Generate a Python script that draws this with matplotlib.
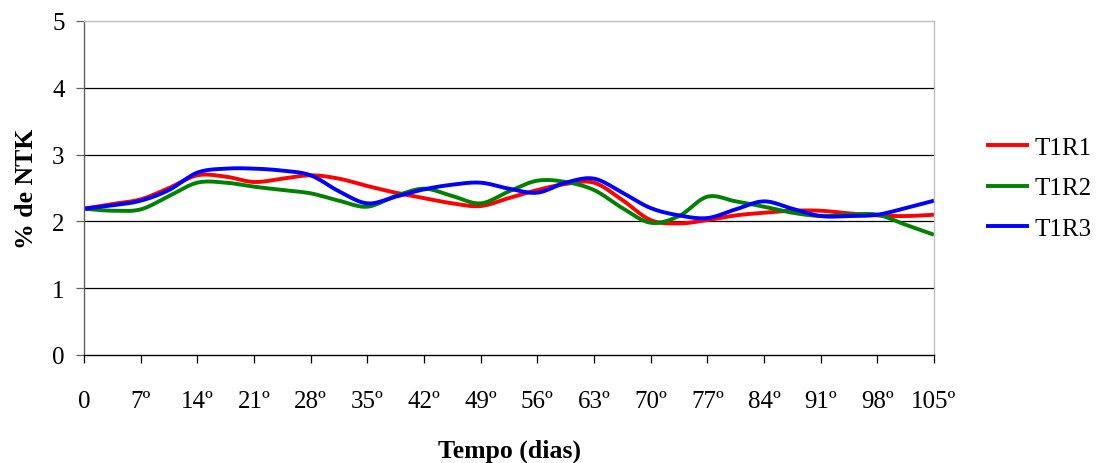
import matplotlib
matplotlib.use("Agg")
import matplotlib.pyplot as plt
import numpy as np

# Sampling days (every 3.5 days) and % NTK for each replicate
days = [0, 3.5, 7, 10.5, 14, 17.5, 21, 24.5, 28, 31.5, 35, 38.5, 42, 45.5, 49,
        52.5, 56, 59.5, 63, 66.5, 70, 73.5, 77, 80.5, 84, 87.5, 91, 94.5, 98,
        101.5, 105]

t1r1 = [2.19, 2.26, 2.33, 2.50, 2.69, 2.67, 2.59, 2.64, 2.69, 2.64, 2.53,
        2.43, 2.35, 2.27, 2.23, 2.35, 2.47, 2.56, 2.58, 2.32, 2.02, 1.97,
        2.02, 2.09, 2.13, 2.16, 2.16, 2.12, 2.09, 2.08, 2.10]

t1r2 = [2.19, 2.16, 2.18, 2.38, 2.58, 2.58, 2.52, 2.47, 2.42, 2.31, 2.22,
        2.38, 2.49, 2.38, 2.27, 2.45, 2.61, 2.59, 2.47, 2.20, 1.98, 2.08,
        2.37, 2.30, 2.22, 2.13, 2.08, 2.10, 2.10, 1.95, 1.80]

t1r3 = [2.19, 2.24, 2.31, 2.47, 2.73, 2.79, 2.79, 2.76, 2.69, 2.45, 2.27,
        2.37, 2.48, 2.55, 2.58, 2.49, 2.43, 2.58, 2.64, 2.43, 2.20, 2.09,
        2.05, 2.18, 2.30, 2.19, 2.08, 2.08, 2.10, 2.20, 2.31]

series_names = ["T1R1", "T1R2", "T1R3"]
series_colors = ["#ff0000", "#008000", "#0000ff"]

tick_days = list(range(0, 106, 7))
tick_labels = ["0"] + [f"{d}º" for d in tick_days[1:]]


def smooth_path(x, y, steps=12):
    """Catmull-Rom curve through the given points (smoothed line style)."""
    x = np.asarray(x, float)
    y = np.asarray(y, float)
    px = np.concatenate([[2 * x[0] - x[1]], x, [2 * x[-1] - x[-2]]])
    py = np.concatenate([[2 * y[0] - y[1]], y, [2 * y[-1] - y[-2]]])
    t = np.linspace(0, 1, steps, endpoint=False)
    xs, ys = [], []
    for i in range(1, len(px) - 2):
        for arr, out in ((px, xs), (py, ys)):
            p0, p1, p2, p3 = arr[i - 1], arr[i], arr[i + 1], arr[i + 2]
            out.extend(0.5 * (2 * p1 + (-p0 + p2) * t
                              + (2 * p0 - 5 * p1 + 4 * p2 - p3) * t ** 2
                              + (-p0 + 3 * p1 - 3 * p2 + p3) * t ** 3))
    xs.append(x[-1])
    ys.append(y[-1])
    return np.array(xs), np.array(ys)


plt.rcParams["font.family"] = ["Liberation Serif", "DejaVu Serif"]

fig = plt.figure(figsize=(11.01, 4.64), dpi=100)
ax = fig.add_axes([84 / 1101, 108 / 464, 850 / 1101, 334 / 464])

for vals, name, col in zip([t1r1, t1r2, t1r3], series_names, series_colors):
    sx, sy = smooth_path(days, vals)
    ax.plot(sx, sy, color=col, lw=2.8, label=name,
            solid_joinstyle="round", solid_capstyle="butt")

ax.set_xlim(0, 105)
ax.set_ylim(0, 5)
ax.set_yticks([0, 1, 2, 3, 4, 5])
ax.set_xticks(tick_days)
ax.set_xticklabels(tick_labels)

for yv in [1, 2, 3, 4]:
    ax.axhline(yv, color="black", lw=0.9, zorder=0)

ax.spines["top"].set_color("#bdbdbd")
ax.spines["right"].set_color("#bdbdbd")
ax.spines["left"].set_color("#606060")
ax.spines["bottom"].set_color("black")
for s in ax.spines.values():
    s.set_linewidth(1.0)

ax.tick_params(axis="y", direction="out", length=6, width=0.9, color="#606060",
               labelsize=18, pad=8)
ax.tick_params(axis="x", direction="out", length=6, width=0.9, color="black",
               labelsize=18, pad=19)

ax.set_xlabel("Tempo (dias)", fontsize=18.5, fontweight="bold", labelpad=19)
ax.set_ylabel("% de NTK", fontsize=18.5, fontweight="bold", labelpad=10)

ax.legend(loc="center left", bbox_to_anchor=(1.049, 0.5), frameon=False,
          fontsize=18, handlelength=1.75, handletextpad=0.22,
          labelspacing=0.72, borderaxespad=0)

fig.savefig("out.png", dpi=100)
